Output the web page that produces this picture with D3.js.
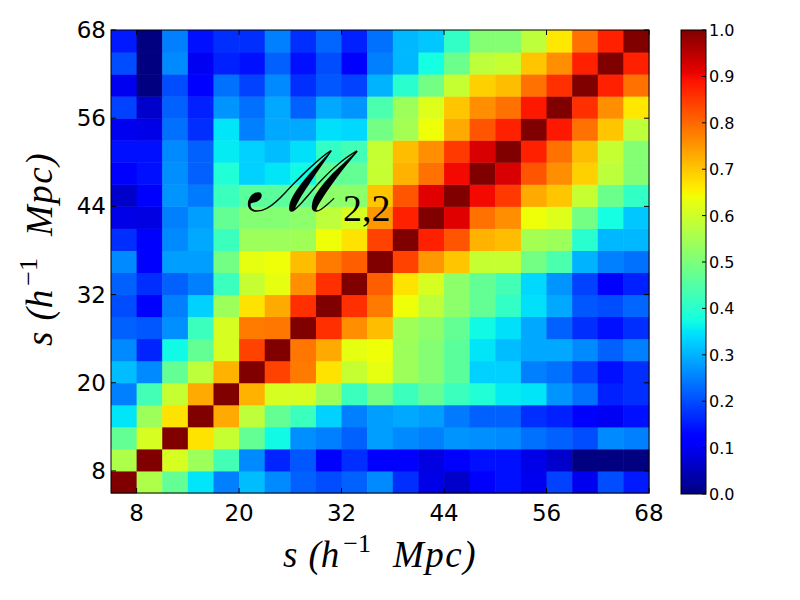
<!DOCTYPE html>
<html>
<head>
<meta charset="utf-8">
<script src="https://cdn.jsdelivr.net/npm/d3@7"></script>
<style>
body { margin: 0; background: #fff; }
</style>
</head>
<body>
<svg id="chart" width="800" height="600"></svg>
<script>
// bin edges in s (h^-1 Mpc), 21 bins
var sEdges = [5, 8, 11, 14, 17, 20, 23, 26, 29, 32, 35, 38, 41, 44, 47, 50, 53, 56, 59, 62, 65, 68];
var sTicks = [8, 20, 32, 44, 56, 68];
var cbTicks = [0.0, 0.1, 0.2, 0.3, 0.4, 0.5, 0.6, 0.7, 0.8, 0.9, 1.0];

// lower triangle of the (symmetric) correlation matrix, row i = i-th bin from small s
var corrRows = [
  [1.00],
  [0.56, 1.00],
  [0.47, 0.61, 1.00],
  [0.35, 0.54, 0.67, 1.00],
  [0.25, 0.43, 0.59, 0.73, 1.00],
  [0.31, 0.26, 0.47, 0.58, 0.72, 1.00],
  [0.26, 0.16, 0.37, 0.47, 0.61, 0.84, 1.00],
  [0.22, 0.21, 0.265, 0.42, 0.61, 0.78, 0.785, 1.00],
  [0.20, 0.12, 0.25, 0.33, 0.54, 0.67, 0.73, 0.86, 1.00],
  [0.22, 0.17, 0.22, 0.25, 0.42, 0.59, 0.63, 0.76, 0.86, 1.00],
  [0.26, 0.12, 0.28, 0.28, 0.49, 0.63, 0.64, 0.71, 0.78, 0.81, 1.00],
  [0.17, 0.12, 0.26, 0.29, 0.42, 0.54, 0.54, 0.545, 0.64, 0.67, 0.84, 1.00],
  [0.09, 0.085, 0.25, 0.28, 0.47, 0.51, 0.51, 0.52, 0.58, 0.61, 0.75, 0.876, 1.00],
  [0.065, 0.11, 0.27, 0.245, 0.42, 0.46, 0.46, 0.47, 0.52, 0.52, 0.70, 0.82, 0.917, 1.00],
  [0.11, 0.14, 0.265, 0.22, 0.39, 0.33, 0.35, 0.37, 0.47, 0.47, 0.59, 0.72, 0.79, 0.90, 1.00],
  [0.14, 0.14, 0.26, 0.22, 0.355, 0.33, 0.31, 0.345, 0.41, 0.43, 0.59, 0.71, 0.76, 0.85, 0.924, 1.00],
  [0.097, 0.09, 0.235, 0.17, 0.35, 0.25, 0.29, 0.29, 0.345, 0.337, 0.49, 0.55, 0.64, 0.73, 0.82, 0.876, 1.00],
  [0.19, 0.066, 0.22, 0.156, 0.27, 0.235, 0.29, 0.22, 0.29, 0.27, 0.44, 0.54, 0.62, 0.70, 0.76, 0.79, 0.885, 1.00],
  [0.097, 0.0, 0.20, 0.12, 0.235, 0.19, 0.26, 0.17, 0.21, 0.19, 0.30, 0.40, 0.49, 0.59, 0.69, 0.71, 0.79, 0.86, 1.00],
  [0.20, 0.0, 0.26, 0.10, 0.156, 0.14, 0.22, 0.14, 0.20, 0.12, 0.25, 0.305, 0.375, 0.48, 0.58, 0.59, 0.70, 0.76, 0.876, 1.00],
  [0.15, 0.0, 0.25, 0.14, 0.17, 0.17, 0.25, 0.17, 0.225, 0.156, 0.235, 0.305, 0.32, 0.41, 0.51, 0.51, 0.58, 0.664, 0.79, 0.876, 1.00]
];

var svg = d3.select("#chart");

var plot = { left: 111, right: 649, top: 30, bottom: 493 };
var x = d3.scaleLinear().domain([5, 68]).range([plot.left, plot.right]);
var y = d3.scaleLinear().domain([5, 68]).range([plot.bottom, plot.top]);

// matplotlib "jet" as piecewise linear channels
var jr = d3.scaleLinear().domain([0, 0.35, 0.66, 0.89, 1]).range([0, 0, 1, 1, 0.5]).clamp(true);
var jg = d3.scaleLinear().domain([0, 0.125, 0.375, 0.64, 0.91, 1]).range([0, 0, 1, 1, 0, 0]).clamp(true);
var jb = d3.scaleLinear().domain([0, 0.11, 0.34, 0.65, 1]).range([0.5, 1, 1, 0, 0]).clamp(true);
function jet(v) {
  return d3.rgb(jr(v) * 255, jg(v) * 255, jb(v) * 255).toString();
}

// build cells (mirror the lower triangle)
var cells = [];
for (var i = 0; i < sEdges.length - 1; i++) {
  for (var j = 0; j < sEdges.length - 1; j++) {
    var v = i >= j ? corrRows[i][j] : corrRows[j][i];
    cells.push({ i: i, j: j, v: v });
  }
}

svg.append("g")
  .selectAll("rect")
  .data(cells)
 .enter().append("rect")
  .attr("x", function(d) { return x(sEdges[d.j]); })
  .attr("y", function(d) { return y(sEdges[d.i + 1]); })
  .attr("width", function(d) { return x(sEdges[d.j + 1]) - x(sEdges[d.j]) + 0.5; })
  .attr("height", function(d) { return y(sEdges[d.i]) - y(sEdges[d.i + 1]) + 0.5; })
  .attr("fill", function(d) { return jet(d.v); });

// frame
svg.append("rect")
  .attr("x", plot.left).attr("y", plot.top)
  .attr("width", plot.right - plot.left).attr("height", plot.bottom - plot.top)
  .attr("fill", "none").attr("stroke", "#000").attr("stroke-width", 1);

// inward ticks on all sides
var tk = 5;
var tg = svg.append("g").attr("stroke", "#000").attr("stroke-width", 1);
sTicks.forEach(function(t) {
  tg.append("line").attr("x1", x(t)).attr("x2", x(t)).attr("y1", plot.bottom).attr("y2", plot.bottom - tk);
  tg.append("line").attr("x1", x(t)).attr("x2", x(t)).attr("y1", plot.top).attr("y2", plot.top + tk);
  tg.append("line").attr("y1", y(t)).attr("y2", y(t)).attr("x1", plot.left).attr("x2", plot.left + tk);
  tg.append("line").attr("y1", y(t)).attr("y2", y(t)).attr("x1", plot.right).attr("x2", plot.right - tk);
});

var tickFont = "DejaVu Sans";
svg.append("g").selectAll("text")
  .data(sTicks)
 .enter().append("text")
  .attr("x", function(d) { return x(d); })
  .attr("y", 521)
  .attr("text-anchor", "middle")
  .attr("font-family", tickFont).attr("font-size", 23)
  .text(function(d) { return d; });

svg.append("g").selectAll("text")
  .data(sTicks)
 .enter().append("text")
  .attr("x", 106)
  .attr("y", function(d) { return y(d) + 8; })
  .attr("text-anchor", "end")
  .attr("font-family", tickFont).attr("font-size", 23)
  .text(function(d) { return d; });

// axis labels
function sLabel(g) {
  g.attr("font-family", "Liberation Serif").attr("font-style", "italic").attr("font-size", 37);
  g.append("tspan").text("s");
  g.append("tspan").attr("dx", 11).text("(h");
  g.append("tspan").attr("dy", -15).attr("dx", 4).attr("font-size", 26).attr("font-style", "normal").text("\u22121");
  g.append("tspan").attr("dy", 15).attr("dx", 22).attr("letter-spacing", 1.5).text("Mpc)");
}
svg.append("text")
  .attr("x", 380).attr("y", 567)
  .attr("text-anchor", "middle")
  .call(sLabel);
svg.append("text")
  .attr("transform", "translate(52,249) rotate(-90)")
  .attr("text-anchor", "middle")
  .call(sLabel);

// annotation
var ann = svg.append("text")
  .attr("x", 246).attr("y", 211)
  .attr("font-family", "DejaVu Serif");
ann.append("tspan").attr("font-size", 84).attr("font-style", "italic").text("\u2133");
ann.append("tspan").attr("font-size", 38).attr("font-family", "Liberation Serif").attr("dx", 0).attr("dy", 10).text("2,2");

// colorbar
var cb = { left: 681, right: 706, top: 30, bottom: 494 };
var cy = d3.scaleLinear().domain([0, 1]).range([cb.bottom, cb.top]);
var grad = svg.append("defs").append("linearGradient")
  .attr("id", "jetgrad").attr("x1", 0).attr("y1", 1).attr("x2", 0).attr("y2", 0);
grad.selectAll("stop")
  .data(d3.range(0, 101))
 .enter().append("stop")
  .attr("offset", function(d) { return d + "%"; })
  .attr("stop-color", function(d) { return jet(d / 100); });
svg.append("rect")
  .attr("x", cb.left).attr("y", cb.top)
  .attr("width", cb.right - cb.left).attr("height", cb.bottom - cb.top)
  .attr("fill", "url(#jetgrad)").attr("stroke", "#000").attr("stroke-width", 1);

svg.append("g").selectAll("line")
  .data(cbTicks)
 .enter().append("line")
  .attr("x1", cb.right).attr("x2", cb.right - 4)
  .attr("y1", function(d) { return cy(d); }).attr("y2", function(d) { return cy(d); })
  .attr("stroke", "#000");

svg.append("g").selectAll("text")
  .data(cbTicks)
 .enter().append("text")
  .attr("x", 709)
  .attr("y", function(d) { return cy(d) + 6; })
  .attr("font-family", tickFont).attr("font-size", 16)
  .text(function(d) { return d.toFixed(1); });
</script>
</body>
</html>
